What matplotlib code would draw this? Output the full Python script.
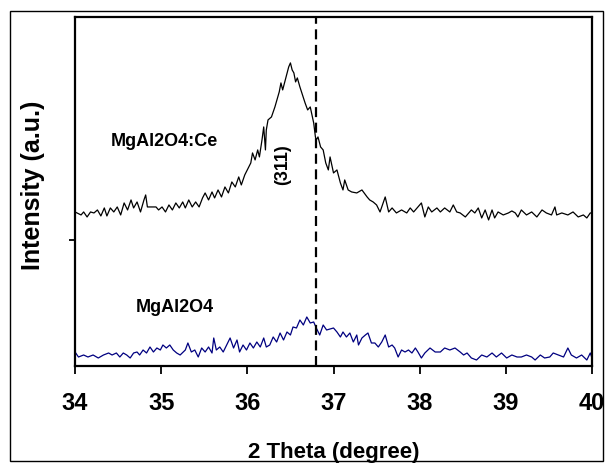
import numpy as np
import matplotlib
matplotlib.use('Agg')
import matplotlib.pyplot as plt
from matplotlib.patches import Rectangle

plt.rcParams['font.family'] = ['Liberation Sans', 'DejaVu Sans']
plt.rcParams['font.weight'] = 'bold'

# MgAl2O4:Ce pattern (2 theta, intensity a.u.)
theta_ce = [34.00, 34.07, 34.10, 34.14, 34.18, 34.22, 34.26, 34.30, 34.34, 34.37,
            34.41, 34.45, 34.49, 34.53, 34.57, 34.61, 34.65, 34.68, 34.72, 34.76,
            34.80, 34.82, 34.84, 34.88, 34.94, 34.97, 35.01, 35.05, 35.09, 35.13,
            35.17, 35.21, 35.25, 35.28, 35.32, 35.36, 35.40, 35.44, 35.48, 35.51,
            35.55, 35.59, 35.62, 35.66, 35.70, 35.74, 35.78, 35.82, 35.86, 35.90,
            35.93, 35.97, 36.01, 36.04, 36.06, 36.09, 36.12, 36.14, 36.17, 36.19,
            36.21, 36.22, 36.24, 36.28, 36.32, 36.35, 36.37, 36.39, 36.41, 36.44,
            36.46, 36.48, 36.50, 36.52, 36.54, 36.56, 36.58, 36.61, 36.64, 36.67,
            36.70, 36.73, 36.77, 36.79, 36.80, 36.82, 36.85, 36.88, 36.91, 36.94,
            36.96, 37.00, 37.04, 37.08, 37.11, 37.13, 37.17, 37.21, 37.27, 37.33,
            37.39, 37.42, 37.46, 37.50, 37.54, 37.60, 37.64, 37.68, 37.73, 37.79,
            37.85, 37.89, 37.93, 37.98, 38.02, 38.06, 38.10, 38.14, 38.20, 38.24,
            38.29, 38.35, 38.39, 38.43, 38.47, 38.53, 38.60, 38.64, 38.68, 38.72,
            38.76, 38.80, 38.84, 38.87, 38.91, 38.97, 39.03, 39.07, 39.11, 39.14,
            39.18, 39.24, 39.30, 39.36, 39.42, 39.47, 39.53, 39.57, 39.59, 39.65,
            39.72, 39.78, 39.84, 39.90, 39.94, 39.98, 40.00]
int_ce = [154, 151, 154, 149, 154, 153, 156, 150, 158, 150,
          158, 154, 159, 151, 163, 156, 166, 158, 164, 154,
          166, 171, 159, 159, 159, 156, 159, 154, 161, 156,
          163, 158, 164, 158, 166, 159, 164, 159, 168, 173,
          166, 174, 168, 176, 169, 179, 173, 184, 179, 189,
          181, 191, 198, 203, 213, 206, 216, 209, 226, 239,
          216, 236, 246, 249, 259, 268, 274, 283, 276, 286,
          293, 299, 303, 296, 293, 284, 288, 279, 271, 263,
          256, 259, 243, 229, 226, 229, 219, 216, 203, 196,
          209, 193, 196, 183, 176, 186, 176, 174, 173, 176,
          169, 166, 164, 161, 154, 169, 154, 158, 153, 156,
          153, 158, 154, 159, 163, 149, 159, 154, 158, 154,
          158, 154, 161, 154, 153, 149, 156, 153, 158, 148,
          156, 146, 156, 148, 154, 151, 153, 155, 153, 149,
          156, 151, 154, 149, 156, 153, 151, 159, 151, 153,
          151, 154, 149, 151, 148, 153, 153]

# MgAl2O4 pattern
theta_mg = [34.00, 34.04, 34.10, 34.15, 34.21, 34.27, 34.33, 34.39, 34.43, 34.48,
            34.52, 34.56, 34.60, 34.64, 34.68, 34.72, 34.75, 34.79, 34.83, 34.87,
            34.91, 34.95, 34.99, 35.02, 35.06, 35.10, 35.14, 35.18, 35.22, 35.28,
            35.31, 35.35, 35.39, 35.43, 35.47, 35.51, 35.55, 35.59, 35.61, 35.64,
            35.68, 35.72, 35.76, 35.80, 35.84, 35.88, 35.91, 35.95, 35.99, 36.03,
            36.07, 36.11, 36.15, 36.19, 36.22, 36.26, 36.30, 36.34, 36.38, 36.42,
            36.46, 36.50, 36.53, 36.57, 36.61, 36.65, 36.69, 36.73, 36.77, 36.80,
            36.84, 36.88, 36.92, 37.00, 37.04, 37.08, 37.11, 37.15, 37.19, 37.23,
            37.27, 37.29, 37.33, 37.37, 37.40, 37.44, 37.48, 37.52, 37.56, 37.60,
            37.64, 37.68, 37.71, 37.75, 37.79, 37.83, 37.87, 37.91, 37.95, 37.98,
            38.02, 38.06, 38.12, 38.18, 38.24, 38.29, 38.35, 38.41, 38.47, 38.51,
            38.55, 38.60, 38.66, 38.72, 38.78, 38.84, 38.89, 38.95, 39.01, 39.07,
            39.13, 39.18, 39.24, 39.30, 39.34, 39.40, 39.45, 39.51, 39.55, 39.61,
            39.67, 39.72, 39.76, 39.82, 39.88, 39.94, 39.98, 40.00]
int_mg = [14, 9, 11, 9, 11, 8, 11, 13, 11, 13,
          9, 13, 11, 8, 13, 14, 11, 16, 13, 19,
          14, 18, 16, 21, 18, 21, 16, 13, 11, 16,
          23, 14, 16, 9, 18, 14, 19, 13, 28, 16,
          19, 14, 21, 28, 18, 26, 14, 21, 16, 23,
          18, 24, 19, 28, 19, 21, 29, 24, 33, 26,
          34, 31, 39, 38, 46, 41, 49, 43, 44, 38,
          31, 41, 36, 38, 34, 29, 34, 29, 33, 24,
          31, 21, 28, 31, 33, 23, 23, 19, 24, 31,
          19, 21, 18, 9, 16, 14, 16, 13, 18, 14,
          8, 13, 18, 14, 14, 18, 16, 18, 14, 11,
          13, 8, 6, 11, 9, 13, 9, 13, 8, 11,
          9, 9, 11, 9, 6, 11, 8, 9, 13, 11,
          9, 18, 11, 8, 11, 6, 13, 8]

peak_311 = 36.8

fig = plt.figure(figsize=(6.05, 4.63), dpi=100)
ax = fig.add_axes([0.124, 0.2095, 0.8545, 0.754])

ax.plot(theta_ce, int_ce, color='black', lw=0.9)
ax.plot(theta_mg, int_mg, color='#000080', lw=0.9)
ax.axvline(peak_311, color='black', lw=1.6, dashes=(4.5, 2.5))

ax.text(34.41, 224, 'MgAl2O4:Ce', fontsize=13, fontweight='bold', va='center')
ax.text(34.70, 58, 'MgAl2O4', fontsize=13, fontweight='bold', va='center')
ax.text(36.41, 201, '(311)', fontsize=13, fontweight='bold', rotation=90,
        ha='center', va='center')

ax.set_xlim(34, 40)
ax.set_ylim(0, 349)
ax.set_xticks([34, 35, 36, 37, 38, 39, 40])
ax.set_yticks([126])
ax.set_yticklabels([])
ax.tick_params(axis='x', direction='out', length=6, width=1.3, labelsize=17, pad=13)
ax.tick_params(axis='y', direction='out', length=4, width=1.3)
for lab in ax.get_xticklabels():
    lab.set_fontweight('bold')
for s in ax.spines.values():
    s.set_linewidth(1.6)

ax.set_xlabel('2 Theta (degree)', fontsize=16, fontweight='bold', labelpad=19)
ax.set_ylabel('Intensity (a.u.)', fontsize=18, fontweight='bold')
ax.yaxis.set_label_coords(-0.058, 0.519)

fig.patches.append(Rectangle((10 / 605, 2 / 463), 593 / 605, 450 / 463,
                             transform=fig.transFigure, fill=False,
                             edgecolor='black', lw=1.0))

fig.savefig('out.png', dpi=100)
